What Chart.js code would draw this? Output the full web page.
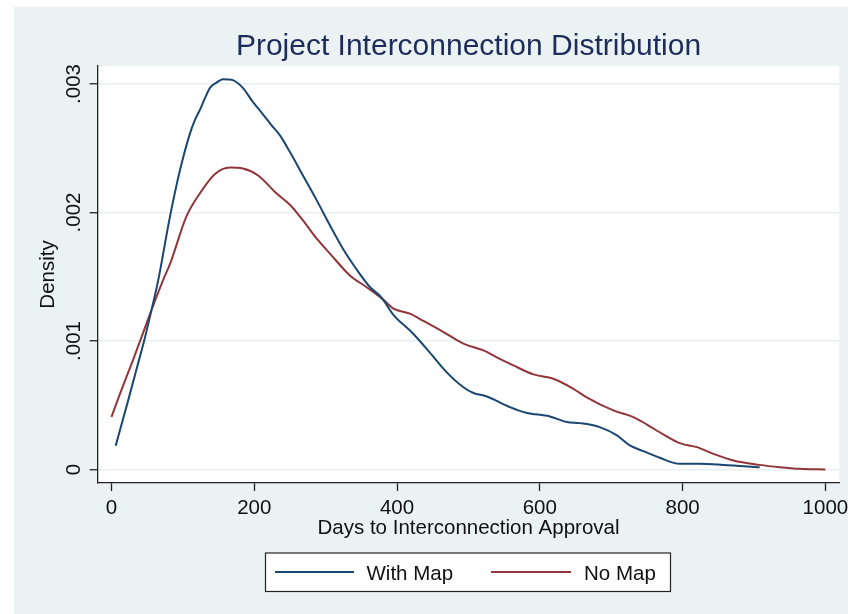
<!DOCTYPE html>
<html>
<head>
<meta charset="utf-8">
<script src="https://cdn.jsdelivr.net/npm/chart.js@4.4.1/dist/chart.umd.min.js"></script>
<style>
  html, body { margin: 0; padding: 0; background: #ffffff; }
  #wrap { width: 848px; height: 614px; position: relative; }
</style>
</head>
<body>
<div id="wrap"><canvas id="c" width="848" height="614"></canvas></div>
<script>
// Kernel density of days to interconnection approval, by map availability
const withMapDays = [5.9, 23.5, 37.5, 47, 56, 65, 82, 96, 110, 117, 124, 131, 138, 147, 156, 163, 170, 184, 198, 210, 224, 236, 250, 268, 287, 306, 324, 343, 362, 378, 394, 422, 446, 469, 493, 507, 525, 558, 581, 614, 638, 656, 684, 708, 726, 745, 768, 796, 824, 857, 908];
const withMapDensity = [0.000185, 0.00054, 0.00083, 0.00103, 0.00124, 0.00146, 0.00197, 0.00233, 0.002616, 0.00272, 0.0028, 0.00289, 0.00297, 0.00301, 0.003037, 0.003035, 0.00303, 0.00297, 0.00286, 0.00278, 0.00268, 0.0026, 0.00247, 0.00229, 0.0021, 0.0019, 0.00172, 0.00156, 0.00142, 0.00134, 0.00121, 0.00106, 0.00091, 0.00076, 0.00064, 0.000595, 0.00057, 0.000486, 0.000442, 0.000413, 0.000369, 0.000361, 0.00033, 0.000265, 0.000187, 0.000143, 0.000091, 0.000044, 0.000044, 0.000036, 0.000018];

const noMapDays = [0, 12, 30, 44, 56, 72, 82, 105, 124, 145, 166, 184, 205, 231, 250, 268, 287, 306, 334, 357, 381, 395, 418, 437, 465, 493, 521, 539, 563, 591, 619, 647, 665, 703, 731, 750, 773, 796, 820, 843, 871, 908, 936, 964, 1000];
const noMapDensity = [0.00041, 0.00059, 0.00085, 0.00106, 0.00124, 0.00147, 0.0016, 0.00197, 0.00215, 0.0023, 0.00235, 0.002343, 0.00229, 0.00215, 0.00206, 0.00194, 0.0018, 0.00168, 0.00151, 0.00142, 0.00132, 0.001252, 0.001213, 0.001156, 0.00107, 0.00098, 0.000927, 0.000875, 0.00081, 0.00074, 0.000706, 0.000628, 0.000564, 0.00046, 0.000408, 0.00035, 0.000273, 0.000205, 0.000174, 0.000122, 0.00007, 0.000036, 0.000018, 0.000005, 0];

const xTicks = [0, 200, 400, 600, 800, 1000];
const yTicks = [0, 0.001, 0.002, 0.003];
const yTickLabels = ['0', '.001', '.002', '.003'];
const seriesNames = ['With Map', 'No Map'];
const chartTitle = 'Project Interconnection Distribution';
const xTitle = 'Days to Interconnection Approval';
const yTitle = 'Density';

const BLUE = '#1a476f';
const RED = '#90353b';
const BG = '#eaf2f3';
const FONT = '"Liberation Sans", Arial, Helvetica, sans-serif';

const toPoints = (xs, ys) => xs.map((x, i) => ({ x: x, y: ys[i] }));

// Outer panel, white plot region, title and boxed legend
const decor = {
  id: 'decor',
  beforeDraw(chart) {
    const ctx = chart.ctx;
    const a = chart.chartArea;
    ctx.save();
    ctx.fillStyle = '#ffffff';
    ctx.fillRect(0, 0, chart.width, chart.height);
    ctx.fillStyle = BG;
    ctx.fillRect(14, 7, chart.width - 14, chart.height - 7);
    ctx.fillStyle = '#ffffff';
    ctx.fillRect(a.left, a.top, a.right - a.left, a.bottom - a.top);
    ctx.restore();
  },
  afterDraw(chart) {
    const ctx = chart.ctx;
    const a = chart.chartArea;
    ctx.save();
    // title
    ctx.fillStyle = '#1d2c5b';
    ctx.font = '30px ' + FONT;
    ctx.textAlign = 'center';
    ctx.textBaseline = 'alphabetic';
    ctx.fillText(chartTitle, (a.left + a.right) / 2, 55);

    // legend
    const bx = 265.5, by = 553, bw = 405, bh = 38.5;
    ctx.fillStyle = '#ffffff';
    ctx.fillRect(bx, by, bw, bh);
    ctx.strokeStyle = '#222222';
    ctx.lineWidth = 1.2;
    ctx.strokeRect(bx, by, bw, bh);
    const ly = 572;
    const entries = [
      { color: BLUE, x0: 275, x1: 354, tx: 366.5, label: seriesNames[0] },
      { color: RED, x0: 491, x1: 571, tx: 584, label: seriesNames[1] }
    ];
    ctx.font = '20.5px ' + FONT;
    ctx.textAlign = 'left';
    entries.forEach(e => {
      ctx.strokeStyle = e.color;
      ctx.lineWidth = 2;
      ctx.beginPath();
      ctx.moveTo(e.x0, ly);
      ctx.lineTo(e.x1, ly);
      ctx.stroke();
      ctx.fillStyle = '#111111';
      ctx.fillText(e.label, e.tx, 579.5);
    });
    ctx.restore();
  }
};

new Chart(document.getElementById('c'), {
  type: 'line',
  data: {
    datasets: [
      {
        label: seriesNames[0],
        data: toPoints(withMapDays, withMapDensity),
        borderColor: BLUE,
        borderWidth: 2,
        pointRadius: 0,
        fill: false,
        cubicInterpolationMode: 'monotone'
      },
      {
        label: seriesNames[1],
        data: toPoints(noMapDays, noMapDensity),
        borderColor: RED,
        borderWidth: 2,
        pointRadius: 0,
        fill: false,
        cubicInterpolationMode: 'monotone'
      }
    ]
  },
  options: {
    responsive: false,
    animation: false,
    devicePixelRatio: 1,
    layout: { padding: { left: 14, top: 66, right: 8.7, bottom: 61 } },
    plugins: {
      legend: { display: false },
      title: { display: false },
      tooltip: { enabled: false }
    },
    scales: {
      x: {
        type: 'linear',
        min: -19.3,
        max: 1019.5,
        afterBuildTicks: s => { s.ticks = xTicks.map(v => ({ value: v })); },
        afterFit: s => {
          s.height = 70;
          s.paddingLeft = 0; s.paddingRight = 0;
        },
        grid: {
          drawOnChartArea: false,
          tickLength: 8,
          tickColor: '#222222',
          tickWidth: 1.3
        },
        border: { display: true, color: '#222222', width: 1.3 },
        ticks: {
          color: '#111111',
          font: { family: FONT, size: 20.5 },
          padding: 4.6,
          maxRotation: 0,
          autoSkip: false,
          callback: (v) => String(v)
        },
        title: {
          display: true,
          text: xTitle,
          color: '#111111',
          font: { family: FONT, size: 20.5 },
          padding: { top: 0, bottom: 12.8 }
        }
      },
      y: {
        type: 'linear',
        min: -0.000105,
        max: 0.00314,
        afterBuildTicks: s => { s.ticks = yTicks.map(v => ({ value: v })); },
        afterFit: s => {
          s.width = 83.7;
          s.paddingTop = 0; s.paddingBottom = 0;
        },
        grid: {
          color: '#e8f0f2',
          lineWidth: 1.5,
          tickLength: 8,
          tickColor: '#222222',
          tickWidth: 1.3
        },
        border: { display: true, color: '#222222', width: 1.3 },
        ticks: {
          color: '#111111',
          font: { family: FONT, size: 20.5 },
          minRotation: 90,
          maxRotation: 90,
          crossAlign: 'center',
          padding: -4.2,
          autoSkip: false,
          callback: (v) => {
            const i = yTicks.findIndex(t => Math.abs(t - v) < 1e-9);
            return i >= 0 ? yTickLabels[i] : '';
          }
        },
        title: {
          display: true,
          text: yTitle,
          color: '#111111',
          font: { family: FONT, size: 20.5 },
          padding: { top: 21.6, bottom: 0 }
        }
      }
    }
  },
  plugins: [decor]
});
</script>
</body>
</html>
